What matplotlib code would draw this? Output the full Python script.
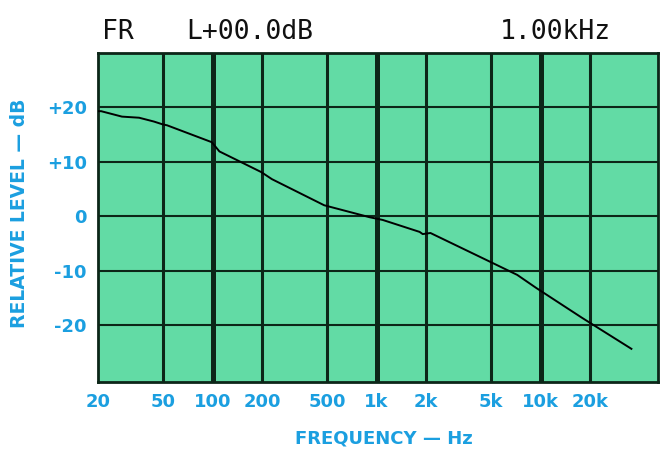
import matplotlib.pyplot as plt
import numpy as np

# frequency response
freq = [20, 20.9, 28, 35.6, 43.8, 49.3, 52.8, 98.8, 110, 198, 230, 479, 907,
        1090, 1830, 1910, 2130, 4700, 7200, 9400, 17900, 35800]
level = [19.3, 19.3, 18.3, 18.1, 17.4, 16.9, 16.7, 13.6, 11.9, 8.1, 6.8, 2.0,
         -0.2, -0.7, -2.9, -3.3, -3.1, -8.1, -10.8, -13.2, -18.7, -24.4]

xticks = [20, 50, 100, 200, 500, 1000, 2000, 5000, 10000, 20000]
xlabels = ['20', '50', '100', '200', '500', '1k', '2k', '5k', '10k', '20k']
yticks = [20, 10, 0, -10, -20]
ylabels = ['+20', '+10', '0', '-10', '-20']
thick = [100, 1000, 10000]

blue = '#1b9fe0'
dark = '#0c2618'

fig = plt.figure(figsize=(6.66, 4.49), dpi=100)
ax = fig.add_axes([98/666, 1 - 382/449, 560/666, 329/449])
ax.set_facecolor('#62dba5')
ax.set_xscale('log')
ax.set_xlim(20, 52000)
ax.set_ylim(-30.5, 30)

for f in xticks[1:]:
    ax.axvline(f, color=dark, lw=3.6 if f in thick else 2.2, zorder=1)
for v in yticks:
    ax.axhline(v, color=dark, lw=1.5, zorder=1)

ax.plot(freq, level, color='black', lw=1.4, zorder=3)

for s in ax.spines.values():
    s.set_color(dark)
    s.set_linewidth(2)

ax.set_xticks(xticks)
ax.set_xticklabels(xlabels)
ax.set_xticks([], minor=True)
ax.set_yticks(yticks)
ax.set_yticklabels(ylabels)
ax.tick_params(length=0, labelcolor=blue, labelsize=13, pad=8)
for t in ax.get_xticklabels() + ax.get_yticklabels():
    t.set_fontweight('bold')

fig.text(384/666, 1 - 438/449, 'FREQUENCY — Hz', color=blue, fontsize=13,
         fontweight='bold', ha='center', va='center')
fig.text(20/666, 1 - 213/449, 'RELATIVE LEVEL — dB', color=blue, fontsize=13.5,
         fontweight='bold', ha='center', va='center', rotation=90)

hdr = dict(color='#111111', fontsize=19, va='center', family='DejaVu Sans Mono')
fig.text(102/666, 1 - 32/449, 'FR', **hdr)
fig.text(186/666, 1 - 32/449, 'L+00.0dB', **hdr)
fig.text(500/666, 1 - 32/449, '1.00kHz', **hdr)

fig.savefig('out.png', dpi=100, facecolor='white')
